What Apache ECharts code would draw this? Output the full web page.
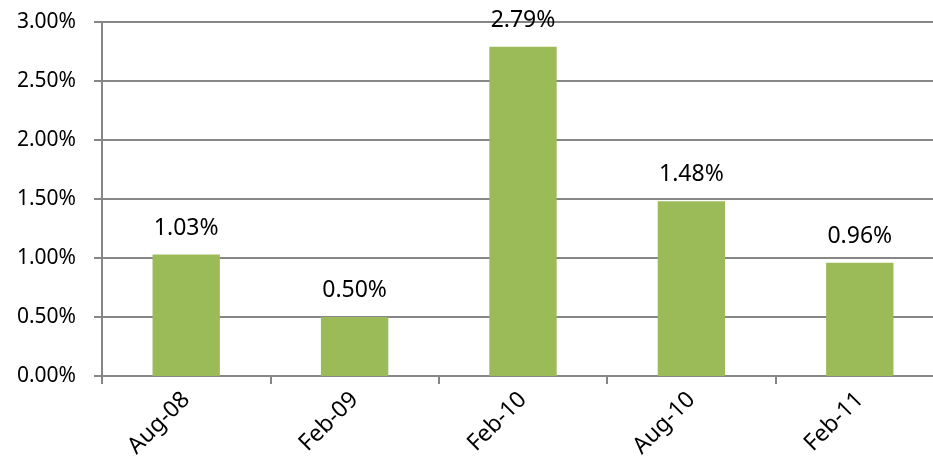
<!DOCTYPE html>
<html>
<head>
<meta charset="utf-8">
<script src="https://cdn.jsdelivr.net/npm/echarts@6/dist/echarts.min.js"></script>
<style>html,body{margin:0;padding:0;background:#fff;}#c{width:933px;height:464px;}</style>
</head>
<body>
<div id="c"></div>
<script>
var categories = ['Aug-08', 'Feb-09', 'Feb-10', 'Aug-10', 'Feb-11'];
var values = [1.03, 0.50, 2.79, 1.48, 0.96];
var yTicks = { min: 0, max: 3, interval: 0.5 };

var FONT = '"Noto Sans", sans-serif';
var chart = echarts.init(document.getElementById('c'), null, { renderer: 'canvas' });
chart.setOption({
  animation: false,
  grid: { left: 102, top: 22, width: 842, height: 354, outerBoundsMode: 'none' },
  xAxis: {
    type: 'category',
    data: categories,
    axisLine: { show: true, lineStyle: { color: '#868686', width: 2 } },
    axisTick: { show: true, length: 8, lineStyle: { color: '#868686', width: 2 } },
    axisLabel: { rotate: 45, margin: 20, fontSize: 23, color: '#000', fontFamily: FONT },
    splitLine: { show: false }
  },
  yAxis: {
    type: 'value',
    min: yTicks.min, max: yTicks.max, interval: yTicks.interval,
    axisLine: { show: true, lineStyle: { color: '#868686', width: 2 } },
    axisTick: { show: true, length: 8, lineStyle: { color: '#868686', width: 2 } },
    axisLabel: { margin: 26, fontSize: 21, color: '#000', fontFamily: FONT,
      formatter: function (v) { return v.toFixed(2) + '%'; } },
    splitLine: { show: true, lineStyle: { color: '#868686', width: 2 } }
  },
  series: [{
    type: 'bar',
    data: values,
    barWidth: '40%',
    itemStyle: { color: '#9BBB59' },
    label: { show: true, position: 'top', distance: 15, fontSize: 23, color: '#000', fontFamily: FONT,
      formatter: function (p) { return p.value.toFixed(2) + '%'; } }
  }]
});
</script>
</body>
</html>
